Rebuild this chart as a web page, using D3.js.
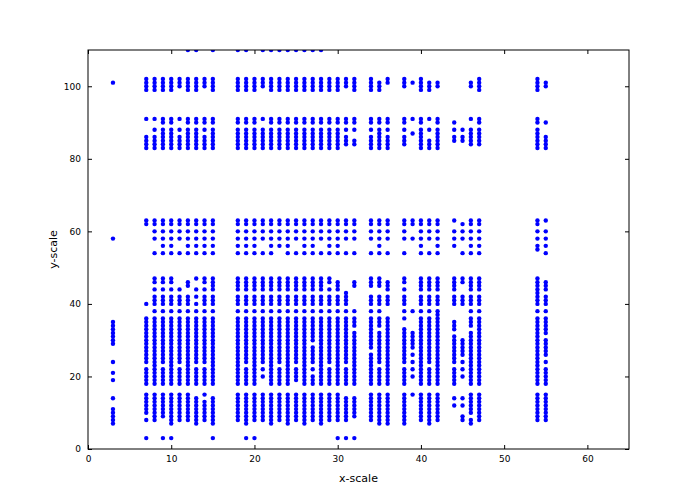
<!DOCTYPE html>
<html><head><meta charset="utf-8">
<script src="https://cdn.jsdelivr.net/npm/d3@7"></script>
<style>body{margin:0;background:#fff}text{font-family:"DejaVu Sans",sans-serif}</style>
</head><body><svg id="c" width="700" height="500"></svg>
<script>
const xTicks=[0,10,20,30,40,50,60];
const yTicks=[0,20,40,60,80,100];
// y values observed for each x column
const columns=[
[3,[7,8,9,10,11,14,19,21,24,29,30,31,32,33,34,35,58,101]],
[7,[3,8,10,11,12,13,14,15,18,19,20,21,22,24,25,26,27,28,29,30,31,32,33,34,35,36,40,62,63,83,84,85,86,91,99,100,101,102]],
[8,[8,9,10,11,12,13,14,15,18,19,20,21,22,23,24,25,26,27,28,29,30,31,32,33,34,35,36,38,40,41,42,44,46,47,54,58,60,62,63,83,84,85,86,88,91,99,100,101,102]],
[9,[3,9,10,11,12,13,14,15,18,19,20,21,22,24,25,26,27,28,29,30,31,32,33,34,35,36,38,40,41,42,44,46,47,54,56,58,60,62,63,83,84,85,86,87,88,90,91,99,100,101,102]],
[10,[3,7,8,9,10,11,12,13,14,15,18,19,20,21,22,23,24,25,26,27,28,29,30,31,32,33,34,35,36,38,40,41,42,44,46,47,54,56,58,60,62,63,83,84,85,86,87,88,90,91,99,100,101,102]],
[11,[8,9,10,11,12,13,14,15,18,19,20,21,22,24,25,26,27,28,29,30,31,32,33,34,35,36,38,40,41,42,44,54,58,60,62,63,83,84,85,86,88,91,100,101,102]],
[12,[8,9,10,11,12,13,14,15,18,19,20,21,22,23,24,25,26,27,28,29,30,31,32,33,34,35,36,38,40,41,42,45,46,54,56,58,60,62,63,83,84,85,86,87,88,90,91,99,100,101,102,110]],
[13,[7,8,9,10,11,12,13,14,18,19,20,21,22,24,25,26,27,28,29,30,31,32,33,34,35,36,38,40,42,44,47,54,56,58,60,62,63,83,84,85,86,87,88,90,91,99,100,101,102,110]],
[14,[8,9,10,11,12,13,15,18,19,20,21,22,24,25,26,27,28,29,30,31,32,33,34,35,36,38,40,41,42,44,46,47,54,56,58,60,62,63,83,84,85,86,88,90,91,100,101,102]],
[15,[3,7,8,9,10,11,12,13,14,18,19,20,21,22,23,24,25,26,27,28,29,30,31,32,33,34,35,36,38,40,41,42,44,45,46,47,54,56,58,60,62,63,83,84,85,86,87,88,90,91,99,100,101,102,110]],
[18,[8,9,10,11,12,13,14,15,18,19,20,21,22,23,24,25,26,27,28,29,30,31,32,33,34,35,36,38,40,41,42,44,45,46,47,54,56,58,60,62,63,83,84,85,86,87,88,90,91,99,100,101,102,110]],
[19,[3,7,8,9,10,11,12,13,14,15,18,19,20,21,22,24,25,26,27,28,29,30,31,32,33,34,35,36,38,40,41,42,44,45,46,47,54,56,58,60,62,63,83,84,85,86,87,88,90,91,99,100,101,102,110]],
[20,[3,8,9,10,11,12,13,14,15,18,19,20,21,22,23,24,25,26,27,28,29,30,31,32,33,34,35,36,38,40,41,42,44,45,46,47,54,56,58,60,62,63,83,84,85,86,87,88,90,91,99,100,101,102]],
[21,[8,9,10,11,12,13,14,15,20,22,24,25,26,27,28,29,30,31,32,33,34,35,36,38,40,41,42,44,45,46,47,54,58,60,62,63,83,84,85,86,87,88,91,100,101,102,110]],
[22,[7,8,9,10,11,12,13,14,15,18,19,20,21,22,23,24,25,26,27,28,29,30,31,32,33,34,35,36,38,40,41,42,44,45,46,47,54,56,58,60,62,63,83,84,85,86,87,88,90,91,99,100,101,102,110]],
[23,[8,9,10,11,12,13,14,15,18,19,20,21,22,24,25,26,27,28,29,30,31,32,33,34,35,36,38,40,41,42,44,45,46,47,56,58,60,62,63,83,84,85,86,87,88,90,91,99,100,101,102,110]],
[24,[7,8,9,10,11,12,13,14,15,18,19,20,21,22,23,24,25,26,27,28,29,30,31,32,33,34,35,36,38,40,41,42,44,45,46,47,54,56,58,60,62,63,83,84,85,86,87,88,90,91,99,100,101,102,110]],
[25,[8,9,10,11,12,13,14,15,19,20,21,22,24,25,26,27,28,29,30,31,32,33,34,35,36,38,40,41,42,44,45,46,47,54,58,60,62,63,83,84,85,86,87,88,90,91,99,100,101,102,110]],
[26,[7,8,9,10,11,12,13,14,15,18,19,20,21,22,23,24,25,26,27,28,29,30,31,32,33,34,35,36,38,40,41,42,44,45,46,47,54,56,58,60,62,63,83,84,85,86,87,88,90,91,99,100,101,102,110]],
[27,[8,9,10,11,12,13,14,15,18,19,20,22,24,25,26,27,28,30,31,32,33,34,35,36,38,40,41,42,44,45,46,47,54,56,58,60,62,63,83,84,85,86,87,88,90,91,99,100,101,102,110]],
[28,[7,8,9,10,11,12,13,14,15,18,19,20,21,22,23,24,25,26,27,28,29,30,31,32,33,34,35,36,38,40,41,42,44,45,46,47,54,58,60,62,63,83,84,85,86,87,88,90,91,99,100,101,102,110]],
[29,[8,9,10,11,12,13,14,15,18,19,20,21,22,24,25,26,27,28,29,30,31,32,33,34,35,36,38,40,41,42,44,46,47,54,56,58,60,62,63,83,84,85,86,87,88,90,91,99,100,101,102]],
[30,[3,8,9,10,11,12,13,14,15,18,19,20,21,22,23,24,25,26,27,28,29,30,31,32,33,34,35,36,38,40,41,42,44,45,46,54,56,58,60,62,63,83,84,85,86,87,88,90,91,99,100,101,102]],
[31,[3,8,9,10,11,12,13,14,18,19,20,21,22,24,25,26,27,28,29,30,31,32,33,34,35,36,38,40,41,42,43,54,58,60,62,63,84,85,86,88,90,91,100,101,102]],
[32,[3,9,10,11,12,13,14,18,19,20,21,22,23,24,25,26,27,28,29,30,31,32,34,35,36,38,45,46,54,58,60,62,63,84,85,88,90,91,99,100,101,102]],
[34,[8,9,10,11,12,13,14,15,18,19,20,21,22,23,24,25,26,28,29,30,31,32,33,34,35,36,38,40,41,42,45,46,47,54,58,60,62,63,83,84,85,86,88,90,91,99,100,101,102]],
[35,[7,8,9,10,11,12,13,14,15,18,19,20,21,22,24,25,26,27,28,29,30,31,32,34,35,36,38,40,41,42,45,46,47,54,56,58,60,62,63,83,84,85,86,87,88,90,91,99,100,101]],
[36,[7,8,9,10,11,12,13,14,15,18,19,20,21,22,23,24,25,26,27,28,29,30,31,32,33,34,35,36,40,41,42,44,45,46,54,58,60,62,63,83,84,85,86,88,90,91,101,102]],
[38,[7,8,9,10,11,12,13,14,15,18,19,20,21,22,24,25,26,27,28,29,30,31,32,33,36,38,40,41,42,44,46,47,54,58,60,62,63,84,85,86,88,90,91,100,101,102]],
[39,[15,20,22,24,26,28,29,30,31,32,38,58,62,63,87,91,101]],
[40,[8,9,10,11,12,13,14,15,18,19,20,21,22,23,24,25,26,27,28,29,30,31,32,33,34,35,36,38,40,41,42,44,45,46,47,54,56,58,60,62,63,83,84,85,86,87,88,90,91,99,100,101,102]],
[41,[7,8,9,10,11,12,13,14,15,18,19,20,21,22,24,25,26,27,28,29,30,31,32,33,34,35,36,38,40,41,42,44,45,46,47,54,58,60,62,63,83,84,85,88,91,99,100,101]],
[42,[8,9,10,11,12,13,14,15,18,19,20,21,22,23,24,25,26,27,28,29,30,31,32,33,34,35,36,37,38,40,41,42,44,45,46,47,54,56,58,60,62,63,83,84,85,86,87,88,90,91,100,101]],
[44,[12,14,18,19,20,21,22,24,25,26,27,28,29,30,31,33,34,35,40,41,42,44,45,46,47,56,58,60,63,85,86,88,90]],
[45,[8,9,12,14,20,22,24,26,27,28,29,30,40,41,42,46,47,54,58,60,62,85,86,88]],
[46,[7,8,10,11,12,13,14,15,18,19,20,21,22,23,24,25,26,27,28,29,30,31,32,34,35,36,38,40,41,42,44,45,46,47,54,56,58,60,62,63,84,85,86,87,88,91,100,101]],
[47,[8,9,10,11,12,13,14,15,18,19,20,21,22,23,24,25,26,27,28,29,30,31,32,33,34,35,36,38,40,41,42,44,45,46,47,54,56,58,60,62,63,84,85,86,87,88,90,91,99,100,101,102]],
[54,[8,9,10,11,12,13,14,15,18,19,20,21,22,23,24,25,26,27,28,29,30,31,32,33,34,35,36,38,40,41,42,43,44,45,46,47,55,56,58,60,62,63,83,84,85,86,87,88,90,91,99,100,101,102]],
[55,[8,9,10,11,12,13,14,15,18,19,20,21,22,24,26,27,28,29,30,32,33,34,35,36,38,40,41,42,44,45,46,54,56,58,60,63,83,84,85,86,90,100,101]]
];
const points=columns.flatMap(([x,ys])=>ys.map(y=>({x,y})));

const svg=d3.select("#c");
const m={l:88,r:71,t:50,b:51};
const W=700-m.l-m.r,H=500-m.t-m.b;
const x=d3.scaleLinear().domain([0,65]).range([0,W]);
const y=d3.scaleLinear().domain([0,110]).range([H,0]);
const g=svg.append("g").attr("transform",`translate(${m.l},${m.t})`);
const clip=svg.append("defs").append("clipPath").attr("id","cl").append("rect").attr("width",W).attr("height",H);
g.append("g").attr("clip-path","url(#cl)").selectAll("circle").data(points).join("circle")
 .attr("cx",d=>x(d.x)).attr("cy",d=>y(d.y)).attr("r",2.2).attr("fill","#0000ff");
const fmt=d3.format("d");
function style(a){a.select(".domain").remove();a.selectAll("text").attr("font-size",9).attr("font-family","DejaVu Sans").attr("fill","#000");a.selectAll("line").attr("stroke","#000");}
g.append("g").attr("transform",`translate(0,${H})`).call(d3.axisBottom(x).tickValues(xTicks).tickSizeInner(-4).tickSizeOuter(0).tickPadding(7).tickFormat(fmt)).call(style);
g.append("g").attr("transform",`translate(0,0)`).call(d3.axisTop(x).tickValues(xTicks).tickSizeInner(-4).tickSizeOuter(0).tickFormat("")).call(style);
g.append("g").call(d3.axisLeft(y).tickValues(yTicks).tickSizeInner(-4).tickSizeOuter(0).tickPadding(7).tickFormat(fmt)).call(style);
g.append("g").attr("transform",`translate(${W},0)`).call(d3.axisRight(y).tickValues(yTicks).tickSizeInner(-4).tickSizeOuter(0).tickFormat("")).call(style);
g.append("rect").attr("width",W).attr("height",H).attr("fill","none").attr("stroke","#000").attr("stroke-width",1);
svg.append("text").attr("x",m.l+W/2).attr("y",482).attr("text-anchor","middle").attr("font-size",11).text("x-scale");
svg.append("text").attr("transform",`translate(57,${m.t+H/2}) rotate(-90)`).attr("text-anchor","middle").attr("font-size",11).text("y-scale");
</script></body></html>
